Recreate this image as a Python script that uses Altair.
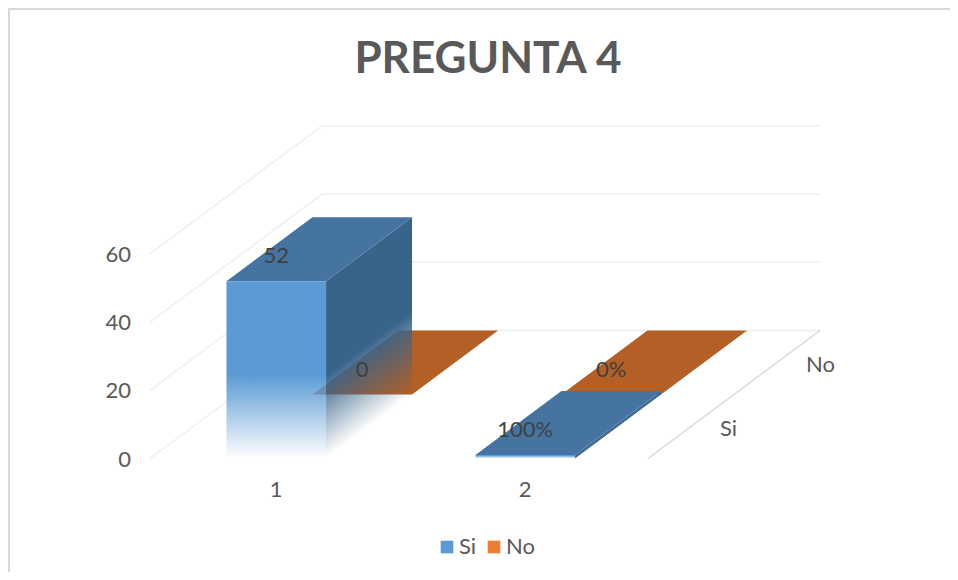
import altair as alt
import pandas as pd

categories = ["1", "2"]
series = ["Si", "No"]
values_si = [52, 1]
values_no = [0, 0]
labels_si = ["52", "100%"]
labels_no = ["0", "0%"]
ticks = [0, 20, 40, 60]

W, H = 942, 564
FONT = "Lato"
TXT = "#595959"
ORIGIN_X, ORIGIN_Y = 142, 450.5     # front-left floor corner, chart pixels
CAT_W, DEP_X, DEP_Y, UNIT = 249, 86, 64, 3.41
BAR_L, BAR_R = 0.307, 0.707
FRONT, SIDE, TOP, FLOOR_NO = "#5B9BD5", "#39648A", "#4574A1", "#B35F25"


def project(cat, dep, val):
    return ORIGIN_X + cat * CAT_W + dep * DEP_X, ORIGIN_Y - dep * DEP_Y - val * UNIT


def polygons(corners):
    rows = []
    for face, pts in enumerate(corners):
        for k, p in enumerate(pts):
            x, y = project(*p)
            rows.append({"face": face, "k": k, "x": x, "y": y})
    return pd.DataFrame(rows)


def box(i, d, v):
    a, b = i + BAR_L, i + BAR_R
    return {
        "front": [(a, d, 0), (b, d, 0), (b, d, v), (a, d, v)],
        "top": [(a, d, v), (b, d, v), (b, d + 1, v), (a, d + 1, v)],
        "side": [(b, d, 0), (b, d + 1, 0), (b, d + 1, v), (b, d, v)],
    }


X = alt.X("x:Q", scale=alt.Scale(domain=[0, W], range=[0, W]), axis=None)
Y = alt.Y("y:Q", scale=alt.Scale(domain=[0, H], range=[0, H]), axis=None)


def fill_layer(corners, fill):
    return alt.Chart(polygons(corners)).mark_line(fill=fill, strokeWidth=0, interpolate="linear").encode(
        x=X, y=Y, detail="face:N", order="k:Q"
    )


def fade(color, x2, y2, start):
    r, g, b = int(color[1:3], 16), int(color[3:5], 16), int(color[5:7], 16)
    return alt.LinearGradient(
        gradient="linear", x1=0, y1=0, x2=x2, y2=y2,
        stops=[
            alt.GradientStop(offset=0, color=color),
            alt.GradientStop(offset=start, color=color),
            alt.GradientStop(offset=1, color=f"rgba({r},{g},{b},0)"),
        ],
    )


def lines(segs, color, width):
    rows = []
    for n, (p, q) in enumerate(segs):
        for k, c in enumerate((p, q)):
            x, y = project(*c)
            rows.append({"seg": n, "k": k, "x": x, "y": y})
    return alt.Chart(pd.DataFrame(rows)).mark_line(color=color, strokeWidth=width).encode(
        x=X, y=Y, detail="seg:N", order="k:Q"
    )


def text_layer(rows, align="center", color=TXT, size=22):
    rows = pd.DataFrame(rows)
    return alt.Chart(rows).mark_text(
        font=FONT, fontSize=size, color=color, align=align, baseline="middle"
    ).encode(x=X, y=Y, text="t:N")


layers = []

# frame
layers.append(alt.Chart().mark_rule(color="#D9D9D9", strokeWidth=2).encode(
    x=alt.value(0), x2=alt.value(W), y=alt.value(1)))
layers.append(alt.Chart().mark_rule(color="#D9D9D9", strokeWidth=2).encode(
    x=alt.value(1), y=alt.value(0), y2=alt.value(H)))

# walls
wall = []
for t in ticks:
    wall.append(((0, 0, t), (0, 2, t)))
    wall.append(((0, 2, t), (2, 2, t)))
layers.append(lines(wall, "#EFEFEF", 1.5))
layers.append(lines([((2, 0, 0), (2, 2, 0))], "#D9D9D9", 1.5))

# series "No" (back row)
layers.append(fill_layer([box(i, 1, v)["top"] for i, v in enumerate(values_no)], FLOOR_NO))

# series "Si", right-hand bar first
small = box(1, 0, values_si[1])
layers.append(fill_layer([small["side"]], "#3F6C95"))
layers.append(fill_layer([small["top"]], TOP))
layers.append(fill_layer([small["front"]], fade(FRONT, 0, 1, 0.1)))
big = box(0, 0, values_si[0])
layers.append(fill_layer([big["side"]], fade(SIDE, 0.248, 0.934, 0.656)))
layers.append(fill_layer([big["top"]], TOP))
layers.append(fill_layer([big["front"]], fade(FRONT, 0, 1, 0.53)))

# legend keys
key_rows = []
for s in series:
    x, y = project(0, 0, 0)
    key_rows.append({"s": s, "x": x, "y": y})
layers.append(alt.Chart(pd.DataFrame(key_rows)).mark_square(size=0, opacity=1).encode(
    x=X, y=Y,
    color=alt.Color(
        "s:N",
        scale=alt.Scale(domain=series, range=["#5B9BD5", "#ED7D31"]),
        sort=series,
        legend=alt.Legend(
            title=None, orient="none", direction="horizontal", legendX=428, legendY=528,
            labelFont=FONT, labelFontSize=22, labelColor=TXT, symbolType="square",
            symbolSize=160, symbolStrokeWidth=0, columnPadding=6, labelOffset=1, symbolOpacity=1,
        ),
    ),
))

# value labels sit above the centre of each bar's front top edge
mid = (BAR_L + BAR_R) / 2
val_rows = []
for i in range(2):
    x, y = project(i + mid, 0, values_si[i])
    val_rows.append({"x": x, "y": y - 25, "t": labels_si[i]})
    x, y = project(i + mid, 1, values_no[i])
    val_rows.append({"x": x, "y": y - 25, "t": labels_no[i]})
layers.append(text_layer(val_rows, color="#404040"))

# category labels
cat_rows = []
for i, c in enumerate(categories):
    x, y = project(i + mid, 0, 0)
    cat_rows.append({"x": x, "y": y + 31, "t": c})
layers.append(text_layer(cat_rows))

# value-axis labels
tick_rows = []
for t in ticks:
    x, y = project(0, 0, t)
    tick_rows.append({"x": x - 19, "y": y + 1, "t": str(t)})
layers.append(text_layer(tick_rows, align="right"))

# series labels
ser_rows = []
for d, s in enumerate(series):
    x, y = project(2, d + 0.5, 0)
    ser_rows.append({"x": x + 29, "y": y + 2, "t": s})
layers.append(text_layer(ser_rows, align="left"))

chart = alt.layer(*layers).properties(
    width=W, height=H, padding=0, autosize=alt.AutoSizeParams(type="none"),
    title=alt.TitleParams(
        "PREGUNTA 4", font=FONT, fontSize=44, fontWeight="bold", color=TXT,
        anchor="middle", frame="group", offset=0, dy=110, dx=9, baseline="alphabetic",
    ),
).configure_view(stroke=None)

chart.save("out.html", embed_options={"renderer": "svg", "actions": False})
